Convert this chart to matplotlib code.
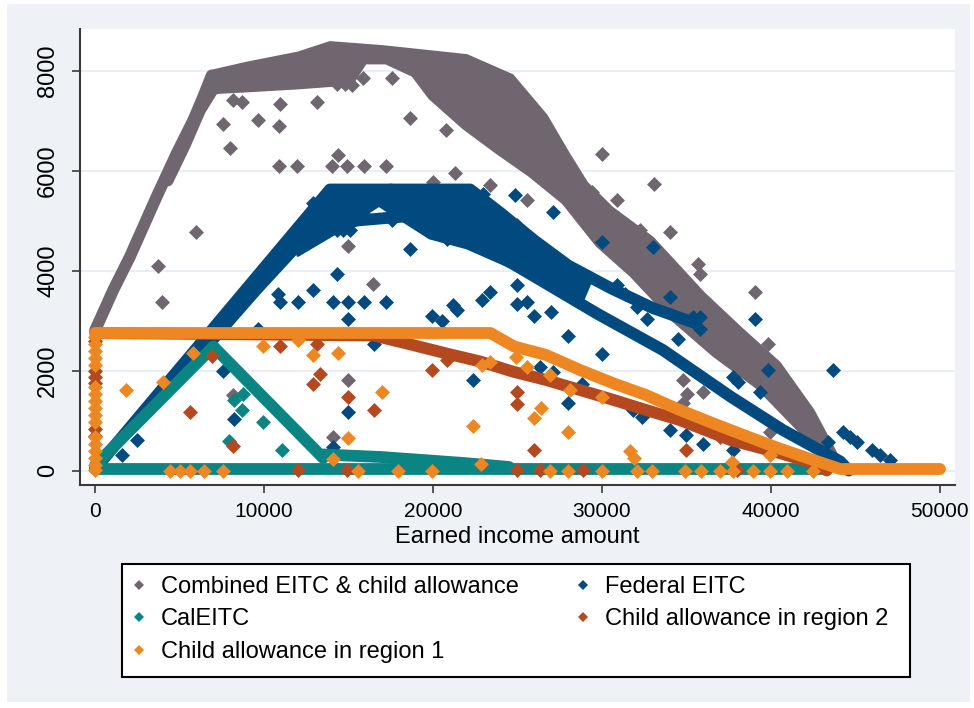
import matplotlib
matplotlib.use("Agg")
import matplotlib.pyplot as plt
from matplotlib.lines import Line2D
from matplotlib.patches import Rectangle

# ---- tick marks and labels ----
x_ticks = [0, 10000, 20000, 30000, 40000, 50000]
x_ticklabels = ["0", "10000", "20000", "30000", "40000", "50000"]
y_ticks = [0, 2000, 4000, 6000, 8000]
y_ticklabels = ["0", "2000", "4000", "6000", "8000"]

series_labels = ["Combined EITC & child allowance", "Federal EITC", "CalEITC",
                 "Child allowance in region 2", "Child allowance in region 1"]

# ---- combined EITC & child allowance ----
# phase-in run of observations
combined_rise_x = [0, 1080, 2070, 3650, 4830, 5820, 6410, 6900]
combined_rise_y = [2800, 3610, 4280, 5480, 6340, 7010, 7480, 7900]
combined_rise2_x = [4300, 5300, 6200, 7200]
combined_rise2_y = [5800, 6500, 7200, 7750]
# outline of the dense plateau / phase-out cloud
combined_cloud_x = [6800, 9000, 12000, 13900, 17000, 22000, 24700, 26700, 28000, 29100,
                    30600, 33000, 36000, 38200, 40500, 42500, 44000, 44000, 41500, 39200,
                    36600, 34200, 31700, 29700, 27700, 25700, 23800, 21800, 19800, 18800,
                    17200, 16000, 15300, 14000, 12000, 9500, 7300, 6600]
combined_cloud_y = [7980, 8150, 8350, 8560, 8480, 8300, 7900, 7100, 6350, 5750,
                    5250, 4650, 3550, 2850, 2150, 1200, 250, 0, 850, 1650,
                    2300, 3000, 3900, 4500, 5350, 5900, 6350, 6850, 7450, 7900,
                    8150, 8150, 7780, 7700, 7650, 7600, 7560, 7500]
# scattered observations
combined_pts_x = [15880, 17550, 14300, 14790, 15190, 13120, 10950, 8680, 8180, 7600,
                  9670, 10910, 7990, 10910, 11970, 14000, 14890, 15940, 17220, 14400,
                  5980, 14990, 3750, 3940, 16470, 14990, 14100, 8180, 18640, 20750,
                  21300, 20020, 23370, 29980, 33080, 29390, 30870, 25540, 24950, 34020,
                  32250, 35700, 35800, 39050, 39840, 39250, 36000, 35010, 39940, 34800,
                  34800]
combined_pts_y = [7860, 7860, 7740, 7740, 7710, 7380, 7340, 7380, 7410, 6930,
                  7020, 6890, 6460, 6100, 6100, 6100, 6100, 6100, 6100, 6310,
                  4780, 4490, 4090, 3380, 3740, 1820, 680, 1510, 7060, 6820,
                  5960, 5780, 5710, 6340, 5740, 5580, 5410, 5410, 4910, 4780,
                  4810, 4140, 3940, 3580, 2540, 2240, 1580, 1540, 780, 1810,
                  1350]

# ---- federal EITC ----
federal_main_x = [0, 13900, 17500, 21000, 25700, 29700, 33600, 37600, 40700, 44100, 44600]
federal_main_y = [30, 5620, 5620, 4870, 3940, 3140, 2410, 1480, 810, 180, 0]
federal_upper_x = [17500, 22200, 24000, 26000, 28000, 30500, 33000, 35500]
federal_upper_y = [5620, 5620, 5150, 4600, 4100, 3650, 3250, 2950]
federal_inner_x = [6000, 9500, 12500, 15500, 19000, 21500]
federal_inner_y = [2250, 3600, 4700, 5000, 5100, 4800]
federal_cloud_x = [12000, 13900, 22200, 24000, 26000, 28000, 29300, 28800, 27000, 25700,
                   22000, 19800, 16800, 14500, 12000]
federal_cloud_y = [4850, 5650, 5650, 5150, 4650, 4150, 3750, 3350, 3650, 3900,
                   4450, 4650, 5300, 4800, 4300]
federal_pts_x = [14300, 12920, 10850, 10950, 12030, 14060, 14990, 15940, 17220, 14990,
                 16510, 14990, 14100, 7600, 8230, 9670, 2470, 1580, 15880, 17550,
                 17260, 14300, 14700, 15090, 12900, 18640, 20810, 22980, 24850, 27120,
                 29980, 33040, 19920, 20510, 21200, 21440, 22880, 23370, 22350, 24950,
                 24950, 25540, 25980, 26960, 28010, 29980, 28010, 26330, 27120, 28800,
                 32050, 32640, 30870, 31360, 34020, 34970, 31850, 32350, 34020, 34520,
                 35800, 35800, 35400, 39050, 39840, 43650, 37770, 38070, 39350, 35990,
                 37770, 43390, 44280, 44670, 45070, 45960, 46450, 47040]
federal_pts_y = [3940, 3610, 3540, 3380, 3380, 3380, 3380, 3380, 3380, 3040,
                 2530, 1180, 480, 1990, 1040, 2840, 610, 310, 5140, 5010,
                 5410, 4820, 4820, 4820, 5350, 4440, 4640, 5540, 5510, 5180,
                 4580, 4480, 3090, 2990, 3310, 3210, 3410, 3580, 1810, 3710,
                 3340, 3380, 3090, 3180, 2700, 2340, 1360, 2080, 1980, 1730,
                 3280, 3040, 3710, 3540, 810, 710, 1210, 1080, 3480, 2640,
                 3080, 2840, 3080, 3040, 2010, 2010, 1880, 1780, 1580, 540,
                 410, 580, 780, 680, 580, 410, 310, 210]

# ---- CalEITC ----
cal_peak_x = [0, 7000, 13500]
cal_peak_y = [100, 2480, 250]
cal_tail_x = [13500, 16900, 21800, 24500]
cal_tail_y = [320, 270, 150, 70]
cal_base_x = [0, 43000]
cal_base_y = [30, 30]
cal_pts_x = [8230, 8780, 8680, 9960, 11040, 7950]
cal_pts_y = [1420, 1540, 1210, 980, 420, 590]

# ---- child allowance, region 2 ----
region2_x = [0, 16500, 18800, 20800, 22800, 24700, 26700, 28700, 30700, 32600,
             34600, 37600, 40500, 42500, 43300]
region2_y = [2750, 2700, 2510, 2340, 2180, 1980, 1810, 1610, 1410, 1210,
             1010, 610, 350, 150, 0]
region2_axis_y = [2600, 2000, 1880, 1760, 840, 700]
region2_pts_x = [10950, 13120, 13310, 12920, 5620, 8180, 6900, 14990, 16510, 12030,
                 14890, 19920, 20810, 24950, 24950, 25980, 24950, 26330, 28900, 34970,
                 36980, 37970]
region2_pts_y = [2490, 2540, 1940, 1730, 1180, 490, 2290, 1480, 1220, 10,
                 10, 2010, 2210, 1580, 1340, 410, 10, 10, 10, 410,
                 680, 10]

# ---- child allowance, region 1 ----
region1_x = [0, 23400, 24800, 26700, 28700, 30700, 32600, 34600, 36600, 38600,
             40500, 42500, 44100, 50000]
region1_y = [2750, 2750, 2480, 2310, 2010, 1740, 1510, 1210, 940, 680,
             440, 210, 30, 30]
region1_axis_y = [2680, 2540, 2400, 2260, 2120, 1680, 1540, 1400, 1260, 1120,
                  980, 680, 540, 400, 260, 120, 10]
region1_pts_x = [1830, 4000, 5820, 9960, 12920, 14400, 12030, 14990, 16960, 22350,
                 22850, 25980, 26370, 28010, 31660, 31890, 29980, 22880, 23370, 25540,
                 26920, 28110, 24910, 14100, 37670, 39940,
                 4440, 5030, 5620, 6450, 7560, 15580, 17900, 19920, 26920, 28010,
                 29980, 32050, 32940, 34900, 35850, 36980, 37770, 38950, 39940, 40930,
                 42500]
region1_pts_y = [1610, 1780, 2360, 2490, 2320, 2360, 2610, 660, 1580, 900,
                 140, 1060, 1260, 780, 400, 260, 1480, 2110, 2180, 2080,
                 1910, 1610, 2280, 240, 180, 310,
                 0, 0, 0, 0, 0, 0, 0, 0, 0, 0,
                 0, 0, 0, 0, 0, 0, 0, 0, 0, 0,
                 0]

GRAY = "#6f6670"
NAVY = "#004a80"
TEAL = "#0b8484"
RUST = "#b4481f"
ORANGE = "#ee8722"
colors = [GRAY, NAVY, TEAL, RUST, ORANGE]

plt.rcParams["font.family"] = ["Liberation Sans", "DejaVu Sans"]

fig = plt.figure(figsize=(9.74, 7.08), dpi=100, facecolor="white")
fig.patches.append(Rectangle((7 / 974, 6 / 708), 963 / 974, 698 / 708,
                             transform=fig.transFigure, facecolor="#eef1f6",
                             edgecolor="none", zorder=-1))
ax = fig.add_axes([80 / 974, 223 / 708, 875 / 974, 456 / 708])
ax.set_facecolor("white")

z = [2]


def band(xs, ys, color):
    ax.plot(xs, ys, color=color, lw=8.5, solid_capstyle="round",
            solid_joinstyle="round", zorder=z[0])


def cloud(xs, ys, color):
    ax.fill(xs, ys, facecolor=color, edgecolor=color, lw=2,
            joinstyle="round", zorder=z[0])


def points(xs, ys, color):
    ax.scatter(xs, ys, marker="D", s=58, color=color, linewidths=0, zorder=z[0] + 0.5)


# draw in legend order so later series sit on top
band(combined_rise_x, combined_rise_y, GRAY)
band(combined_rise2_x, combined_rise2_y, GRAY)
cloud(combined_cloud_x, combined_cloud_y, GRAY)
points(combined_pts_x, combined_pts_y, GRAY)

z[0] = 3
cloud(federal_cloud_x, federal_cloud_y, NAVY)
band(federal_main_x, federal_main_y, NAVY)
band(federal_upper_x, federal_upper_y, NAVY)
band(federal_inner_x, federal_inner_y, NAVY)
points(federal_pts_x, federal_pts_y, NAVY)

z[0] = 4
band(cal_peak_x, cal_peak_y, TEAL)
band(cal_tail_x, cal_tail_y, TEAL)
band(cal_base_x, cal_base_y, TEAL)
points(cal_pts_x, cal_pts_y, TEAL)

z[0] = 5
band(region2_x, region2_y, RUST)
points([0] * len(region2_axis_y), region2_axis_y, RUST)
points(region2_pts_x, region2_pts_y, RUST)

z[0] = 6
band(region1_x, region1_y, ORANGE)
points([0] * len(region1_axis_y), region1_axis_y, ORANGE)
points(region1_pts_x, region1_pts_y, ORANGE)

ax.set_xlim(-890, 50890)
ax.set_ylim(-290, 8830)
ax.set_xticks(x_ticks)
ax.set_xticklabels(x_ticklabels, fontsize=15)
ax.set_yticks(y_ticks)
ax.set_yticklabels(y_ticklabels, fontsize=17, rotation=90, va="center", ha="right")

ax.set_axisbelow(True)
ax.yaxis.grid(True, color="#e8eef5", lw=1.5)
ax.xaxis.grid(False)
for side in ["top", "right"]:
    ax.spines[side].set_visible(False)
for side in ["left", "bottom"]:
    ax.spines[side].set_color("#3a3a3a")
    ax.spines[side].set_linewidth(1.5)
ax.tick_params(axis="both", direction="out", length=6, width=1.2, color="#3a3a3a")
ax.tick_params(axis="x", pad=6)
ax.tick_params(axis="y", pad=9)

ax.set_xlabel("Earned income amount", fontsize=17)
ax.xaxis.label.set_va("center")
ax.xaxis.set_label_coords(0.5, -52 / 456)

# legend box with two columns
fig.patches.append(Rectangle((122 / 974, 1 - 677 / 708), 788 / 974, 113 / 708,
                             transform=fig.transFigure, facecolor="white",
                             edgecolor="black", lw=1.5, zorder=4))
handles = [Line2D([], [], ls="none", marker="D", ms=5, color=c, mew=0) for c in colors]
order = [0, 2, 4, 1, 3]
fig.legend([handles[i] for i in order], [series_labels[i] for i in order],
           ncol=2, loc="upper left", bbox_to_anchor=(122 / 974, 1 - 564 / 708),
           bbox_transform=fig.transFigure, frameon=False, fontsize=17,
           borderpad=0.5, borderaxespad=0, handlelength=0.4, handletextpad=0.75,
           columnspacing=2.5, labelspacing=0.45)

fig.savefig("out.png", dpi=100, facecolor=fig.get_facecolor())
